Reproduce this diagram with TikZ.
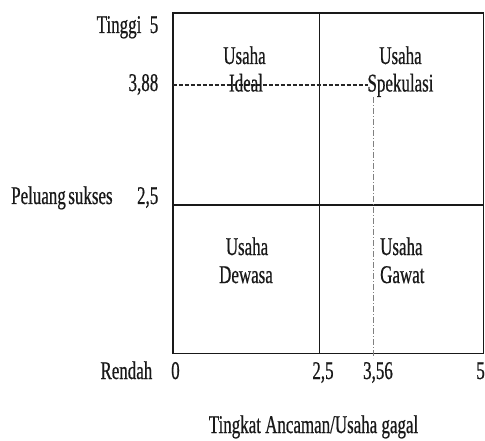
\documentclass[tikz,border=0pt]{standalone}
\usepackage{fontspec}
\setmainfont{Liberation Serif}[FakeStretch=0.665,FakeBold=0.6]
\begin{document}
\begin{tikzpicture}[x=1pt,y=-1pt,
  lbl/.style={inner sep=0pt,text=black!90,font=\fontsize{25.5}{27}\selectfont},
  frame/.style={line width=1.6pt,draw=black!90},
  guide/.style={line width=1.1pt,draw=black!85,dash pattern=on 4pt off 2pt},
  guide2/.style={line width=1pt,draw=black!50,dash pattern=on 6pt off 2pt on 1pt off 2pt}]
\useasboundingbox (0,0) rectangle (485,441);
% frame corners
\coordinate (tl) at (172.7,13.3);
\coordinate (tr) at (483.3,13.3);
\coordinate (bl) at (172.7,353.3);
\coordinate (br) at (483.3,353.3);
\coordinate (mt) at (319.3,13.3);
\coordinate (mb) at (319.3,353.3);
\coordinate (ml) at (172.7,205);
\coordinate (mr) at (483.3,205);
\coordinate (gl) at (172.7,85);
\coordinate (ge) at (368,85);
\coordinate (vt) at (373.3,97);
\coordinate (vb) at (373.3,358);
\draw[frame] (tl) rectangle (br);
\draw[frame] (mt) -- (mb);
\draw[frame] (ml) -- (mr);
\draw[guide] (gl) -- (ge);
\draw[guide2] (vt) -- (vb);
% y-axis labels
\node[lbl,anchor=base east] (tinggi) at (158.5,33) {Tinggi\ \ 5};
\node[lbl,anchor=base east] (y388) at (158.5,91) {3,88};
\node[lbl,anchor=base west] (peluang) at (11,204) {\spaceskip=2.5pt Peluang sukses};
\node[lbl,anchor=base east] (y25) at (158.5,204) {2,5};
% x-axis labels
\node[lbl,anchor=base east] (rendah) at (152.5,379) {Rendah};
\node[lbl,anchor=base west] (x0) at (171,379) {0};
\node[lbl,anchor=base] (x25) at (323,379) {2,5};
\node[lbl,anchor=base] (x356) at (378,379) {3,56};
\node[lbl,anchor=base east] (x5) at (485,379) {5};
\node[lbl,anchor=base] (xtitle) at (313.5,433) {Tingkat Ancaman/Usaha gagal};
% quadrant labels
\node[lbl,anchor=base] (q1a) at (244.5,64) {Usaha};
\node[lbl,anchor=base] (q1b) at (246,91.5) {Ideal};
\node[lbl,anchor=base] (q2a) at (400.5,64) {Usaha};
\node[lbl,anchor=base] (q2b) at (400.5,91.5) {Spekulasi};
\node[lbl,anchor=base] (q3a) at (247,255) {Usaha};
\node[lbl,anchor=base] (q3b) at (246,283) {Dewasa};
\node[lbl,anchor=base west] (q4a) at (380,255) {Usaha};
\node[lbl,anchor=base west] (q4b) at (380,283) {Gawat};
\end{tikzpicture}
\end{document}
